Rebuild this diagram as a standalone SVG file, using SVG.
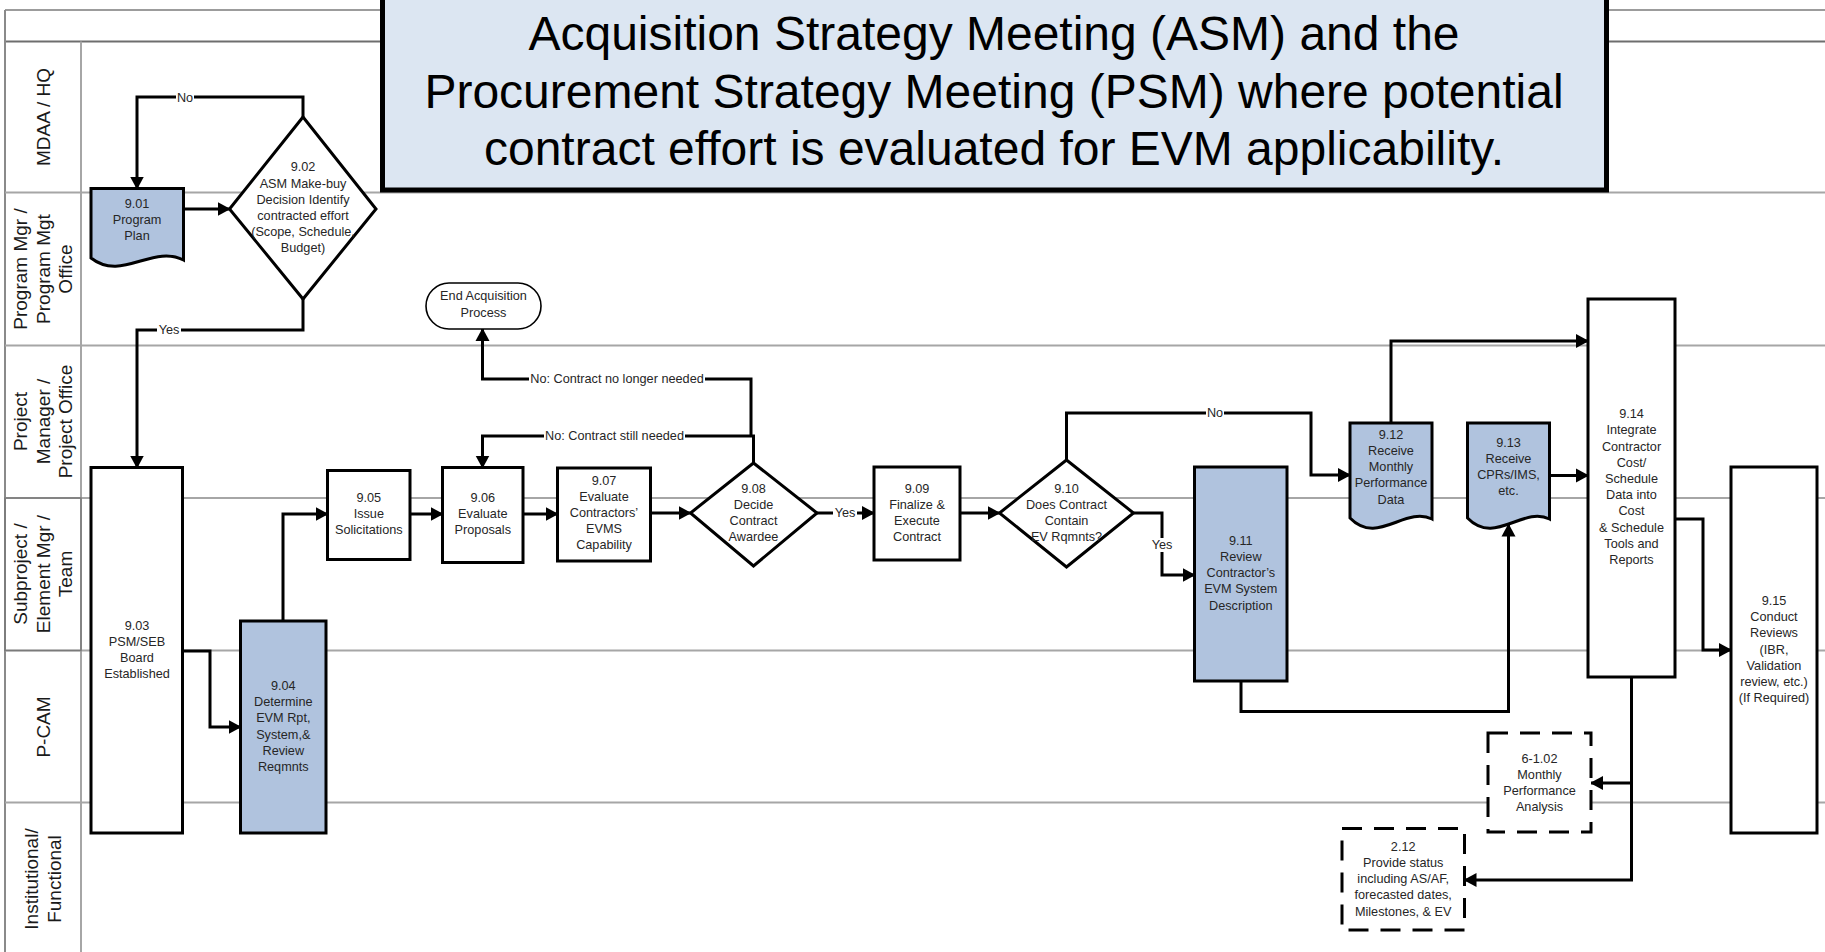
<svg xmlns="http://www.w3.org/2000/svg" width="1825" height="952" viewBox="0 0 1825 952">
  <style>
    .lane { stroke: #a6a6a6; stroke-width: 2; fill: none; }
    .hdr { stroke: #3a3a3a; stroke-width: 1.2; fill: none; }
    .box { fill: #ffffff; stroke: #000000; stroke-width: 3; }
    .blue { fill: #b0c3de; stroke: #000000; stroke-width: 3; }
    .dash { fill: #ffffff; stroke: #000000; stroke-width: 3; stroke-dasharray: 20 12; }
    .term { fill: #ffffff; stroke: #000000; stroke-width: 1.6; }
    .t { font-family: "Liberation Sans", Arial, sans-serif; font-size: 12.7px; fill: #262626; text-anchor: middle; }
    .lbl { font-family: "Liberation Sans", Arial, sans-serif; font-size: 12.7px; fill: #262626; text-anchor: middle; }
    .lanetxt { font-family: "Liberation Sans", Arial, sans-serif; font-size: 19px; fill: #1a1a1a; text-anchor: middle; }
    .call { font-family: "Liberation Sans", Arial, sans-serif; font-size: 48px; fill: #000000; text-anchor: middle; }
    .conn { fill: none; stroke: #000000; stroke-width: 3; }
    .arr { marker-end: url(#ah); }
    .bg { fill: #ffffff; }
  </style>
  <defs>
    <marker id="ah" viewBox="0 0 13 15" refX="12" refY="7.5" markerWidth="13" markerHeight="15" markerUnits="userSpaceOnUse" orient="auto">
      <path d="M0,0.5 L13,7.5 L0,14.5 z" fill="#000000"/>
    </marker>
  </defs>

  <rect x="0" y="0" width="1825" height="952" fill="#ffffff"/>

  <!-- swimlane frame -->
  <g id="lanes">
    <line class="hdr" x1="5" y1="10" x2="1825" y2="10"/>
    <line class="lane" x1="5" y1="41.5" x2="1825" y2="41.5" style="stroke:#6e6e6e"/>
    <line class="lane" x1="5" y1="10" x2="5" y2="952" style="stroke:#8a8a8a"/>
    <line class="lane" x1="81" y1="41.5" x2="81" y2="952"/>
    <line class="lane" x1="5" y1="192.5" x2="1825" y2="192.5"/>
    <line class="lane" x1="5" y1="345.5" x2="1825" y2="345.5"/>
    <line class="lane" x1="5" y1="498" x2="1825" y2="498"/>
    <line class="lane" x1="5" y1="650.5" x2="1825" y2="650.5"/>
    <line class="lane" x1="5" y1="802.5" x2="1825" y2="802.5"/>
    <rect x="5" y="498" width="76" height="152.5" fill="none" stroke="#7a7a7a" stroke-width="1.5"/>
  </g>

  <g id="lane-labels">
    <text class="lanetxt" transform="translate(43,117) rotate(-90)"><tspan x="0" y="6.7">MDAA / HQ</tspan></text>
    <text class="lanetxt" transform="translate(43,269) rotate(-90)"><tspan x="0" y="-15.8">Program Mgr /</tspan><tspan x="0" y="6.7">Program Mgt</tspan><tspan x="0" y="29.2">Office</tspan></text>
    <text class="lanetxt" transform="translate(43,421.5) rotate(-90)"><tspan x="0" y="-15.8">Project</tspan><tspan x="0" y="6.7">Manager /</tspan><tspan x="0" y="29.2">Project Office</tspan></text>
    <text class="lanetxt" transform="translate(43,574) rotate(-90)"><tspan x="0" y="-15.8">Subproject /</tspan><tspan x="0" y="6.7">Element Mgr /</tspan><tspan x="0" y="29.2">Team</tspan></text>
    <text class="lanetxt" transform="translate(43,727) rotate(-90)"><tspan x="0" y="6.7">P-CAM</tspan></text>
    <text class="lanetxt" transform="translate(43,879) rotate(-90)"><tspan x="0" y="-4.55">Institutional/</tspan><tspan x="0" y="17.95">Functional</tspan></text>
  </g>

  <!-- connectors -->
  <g id="connectors">
    <path class="conn arr" d="M303,117 V97 H137 V188.5"/>
    <path class="conn arr" d="M183.5,209 H229.5"/>
    <path class="conn arr" d="M303,299 V330 H137 V467.5"/>
    <path class="conn arr" d="M182.5,651 H210 V727 H240.5"/>
    <path class="conn arr" d="M283,621 V514 H327.5"/>
    <path class="conn arr" d="M410,514 H442.5"/>
    <path class="conn arr" d="M523,514 H557.5"/>
    <path class="conn arr" d="M650.5,513 H690.5"/>
    <path class="conn arr" d="M817,513 H874"/>
    <path class="conn arr" d="M960,513 H999.5"/>
    <path class="conn arr" d="M1133.5,513 H1162 V575 H1194.5"/>
    <path class="conn arr" d="M1066.5,460 V413 H1311 V475 H1350"/>
    <path class="conn arr" d="M753.5,463 V436 H482.5 V467.5"/>
    <path class="conn arr" d="M751,436 V379 H482.5 V329"/>
    <path class="conn arr" d="M1391,423 V341 H1588"/>
    <path class="conn arr" d="M1549.5,475.5 H1588"/>
    <path class="conn arr" d="M1241,681 V711.5 H1508.5 V524.5"/>
    <path class="conn arr" d="M1675,519 H1703 V650 H1731"/>
    <path class="conn arr" d="M1631.5,677 V880 H1464.5"/>
    <path class="conn arr" d="M1631.5,783 H1591"/>

    <rect class="bg" x="176" y="91" width="18" height="12"/>
    <text class="lbl" x="185" y="101.7">No</text>
    <rect class="bg" x="157" y="324" width="24" height="12"/>
    <text class="lbl" x="169" y="334.4">Yes</text>
    <rect class="bg" x="529" y="373" width="176" height="12"/>
    <text class="lbl" x="617" y="383.4">No: Contract no longer needed</text>
    <rect class="bg" x="544" y="430" width="141" height="12"/>
    <text class="lbl" x="614.5" y="440.4">No: Contract still needed</text>
    <rect class="bg" x="833" y="507" width="24" height="12"/>
    <text class="lbl" x="845" y="517.4">Yes</text>
    <rect class="bg" x="1150" y="538" width="24" height="14"/>
    <text class="lbl" x="1162" y="549.4">Yes</text>
    <rect class="bg" x="1206" y="407" width="18" height="12"/>
    <text class="lbl" x="1215" y="417.4">No</text>
  </g>

  <!-- process nodes -->
  <g id="n901">
    <path class="blue" d="M91,188.5 H183.5 V260 C153,244 121.5,282 91,258 Z"/>
    <text class="t"><tspan x="137" y="207.9">9.01</tspan><tspan x="137" y="224.1">Program</tspan><tspan x="137" y="240.3">Plan</tspan></text>
  </g>
  <g id="n902">
    <path class="box" d="M303,117 L376,209 L303,299 L229.5,209 Z"/>
    <text class="t"><tspan x="303" y="171.4">9.02</tspan><tspan x="303" y="187.6">ASM Make-buy</tspan><tspan x="303" y="203.8">Decision Identify</tspan><tspan x="303" y="220">contracted effort</tspan><tspan x="303" y="236.2">(Scope, Schedule,</tspan><tspan x="303" y="252.4">Budget)</tspan></text>
  </g>
  <g id="end-acq">
    <rect class="term" x="426" y="283" width="115" height="46" rx="23" ry="23"/>
    <text class="t"><tspan x="483.5" y="300.4">End Acquisition</tspan><tspan x="483.5" y="316.9">Process</tspan></text>
  </g>
  <g id="n903">
    <rect class="box" x="91" y="467.5" width="91.5" height="365.5"/>
    <text class="t"><tspan x="137" y="629.8">9.03</tspan><tspan x="137" y="646">PSM/SEB</tspan><tspan x="137" y="662.2">Board</tspan><tspan x="137" y="678.4">Established</tspan></text>
  </g>
  <g id="n904">
    <rect class="blue" x="240.5" y="621" width="85.5" height="212"/>
    <text class="t"><tspan x="283.3" y="689.9">9.04</tspan><tspan x="283.3" y="706.1">Determine</tspan><tspan x="283.3" y="722.3">EVM Rpt,</tspan><tspan x="283.3" y="738.5">System,&amp;</tspan><tspan x="283.3" y="754.7">Review</tspan><tspan x="283.3" y="770.9">Reqmnts</tspan></text>
  </g>
  <g id="n905">
    <rect class="box" x="327.5" y="470.5" width="82.5" height="89"/>
    <text class="t"><tspan x="368.8" y="501.7">9.05</tspan><tspan x="368.8" y="517.9">Issue</tspan><tspan x="368.8" y="534.1">Solicitations</tspan></text>
  </g>
  <g id="n906">
    <rect class="box" x="442.5" y="467.5" width="80.5" height="95"/>
    <text class="t"><tspan x="482.8" y="501.7">9.06</tspan><tspan x="482.8" y="517.9">Evaluate</tspan><tspan x="482.8" y="534.1">Proposals</tspan></text>
  </g>
  <g id="n907">
    <rect class="box" x="557.5" y="468" width="93" height="93"/>
    <text class="t"><tspan x="604" y="484.5">9.07</tspan><tspan x="604" y="500.7">Evaluate</tspan><tspan x="604" y="516.9">Contractors’</tspan><tspan x="604" y="533.1">EVMS</tspan><tspan x="604" y="549.3">Capability</tspan></text>
  </g>
  <g id="n908">
    <path class="box" d="M753.5,463 L817,513 L753.5,566 L690.5,513 Z"/>
    <text class="t"><tspan x="753.5" y="492.6">9.08</tspan><tspan x="753.5" y="508.8">Decide</tspan><tspan x="753.5" y="525">Contract</tspan><tspan x="753.5" y="541.2">Awardee</tspan></text>
  </g>
  <g id="n909">
    <rect class="box" x="874" y="467" width="86" height="93"/>
    <text class="t"><tspan x="917" y="492.6">9.09</tspan><tspan x="917" y="508.8">Finalize &amp;</tspan><tspan x="917" y="525">Execute</tspan><tspan x="917" y="541.2">Contract</tspan></text>
  </g>
  <g id="n910">
    <path class="box" d="M1066.5,460 L1133.5,513 L1066.5,567 L999.5,513 Z"/>
    <text class="t"><tspan x="1066.5" y="492.6">9.10</tspan><tspan x="1066.5" y="508.8">Does Contract</tspan><tspan x="1066.5" y="525">Contain</tspan><tspan x="1066.5" y="541.2">EV Rqmnts?</tspan></text>
  </g>
  <g id="n911">
    <rect class="blue" x="1194.5" y="467" width="92.5" height="214"/>
    <text class="t"><tspan x="1240.8" y="544.7">9.11</tspan><tspan x="1240.8" y="560.9">Review</tspan><tspan x="1240.8" y="577.1">Contractor’s</tspan><tspan x="1240.8" y="593.3">EVM System</tspan><tspan x="1240.8" y="609.5">Description</tspan></text>
  </g>
  <g id="n912">
    <path class="blue" d="M1350,423 H1432 V519 C1404.9,506 1377.1,546 1350,518 Z"/>
    <text class="t"><tspan x="1391" y="438.8">9.12</tspan><tspan x="1391" y="455">Receive</tspan><tspan x="1391" y="471.2">Monthly</tspan><tspan x="1391" y="487.4">Performance</tspan><tspan x="1391" y="503.6">Data</tspan></text>
  </g>
  <g id="n913">
    <path class="blue" d="M1467.5,423 H1549.5 V519 C1522.4,506 1494.6,546 1467.5,518 Z"/>
    <text class="t"><tspan x="1508.5" y="446.8">9.13</tspan><tspan x="1508.5" y="463">Receive</tspan><tspan x="1508.5" y="479.2">CPRs/IMS,</tspan><tspan x="1508.5" y="495.4">etc.</tspan></text>
  </g>
  <g id="n914">
    <rect class="box" x="1588" y="299" width="87" height="378"/>
    <text class="t"><tspan x="1631.5" y="418.2">9.14</tspan><tspan x="1631.5" y="434.4">Integrate</tspan><tspan x="1631.5" y="450.6">Contractor</tspan><tspan x="1631.5" y="466.8">Cost/</tspan><tspan x="1631.5" y="483">Schedule</tspan><tspan x="1631.5" y="499.2">Data into</tspan><tspan x="1631.5" y="515.4">Cost</tspan><tspan x="1631.5" y="531.6">&amp; Schedule</tspan><tspan x="1631.5" y="547.8">Tools and</tspan><tspan x="1631.5" y="564">Reports</tspan></text>
  </g>
  <g id="n915">
    <rect class="box" x="1731" y="467" width="86" height="366"/>
    <text class="t"><tspan x="1774" y="605">9.15</tspan><tspan x="1774" y="621.2">Conduct</tspan><tspan x="1774" y="637.4">Reviews</tspan><tspan x="1774" y="653.6">(IBR,</tspan><tspan x="1774" y="669.8">Validation</tspan><tspan x="1774" y="686">review, etc.)</tspan><tspan x="1774" y="702.2">(If Required)</tspan></text>
  </g>
  <g id="n6-102">
    <rect class="dash" x="1488" y="733" width="103" height="99"/>
    <text class="t"><tspan x="1539.5" y="762.6">6-1.02</tspan><tspan x="1539.5" y="778.8">Monthly</tspan><tspan x="1539.5" y="795">Performance</tspan><tspan x="1539.5" y="811.2">Analysis</tspan></text>
  </g>
  <g id="n212">
    <rect class="dash" x="1342" y="828.5" width="122.5" height="101.5"/>
    <text class="t"><tspan x="1403.2" y="850.7">2.12</tspan><tspan x="1403.2" y="866.9">Provide status</tspan><tspan x="1403.2" y="883.1">including AS/AF,</tspan><tspan x="1403.2" y="899.3">forecasted dates,</tspan><tspan x="1403.2" y="915.5">Milestones, &amp; EV</tspan></text>
  </g>

  <!-- explanatory callout -->
  <g id="callout">
    <rect x="382.5" y="-10" width="1224" height="200" fill="#dce6f2" stroke="#000000" stroke-width="5"/>
    <text class="call" x="994" y="50">Acquisition Strategy Meeting (ASM) and the</text>
    <text class="call" x="994" y="108">Procurement Strategy Meeting (PSM) where potential</text>
    <text class="call" x="994" y="165">contract effort is evaluated for EVM applicability.</text>
  </g>
</svg>
